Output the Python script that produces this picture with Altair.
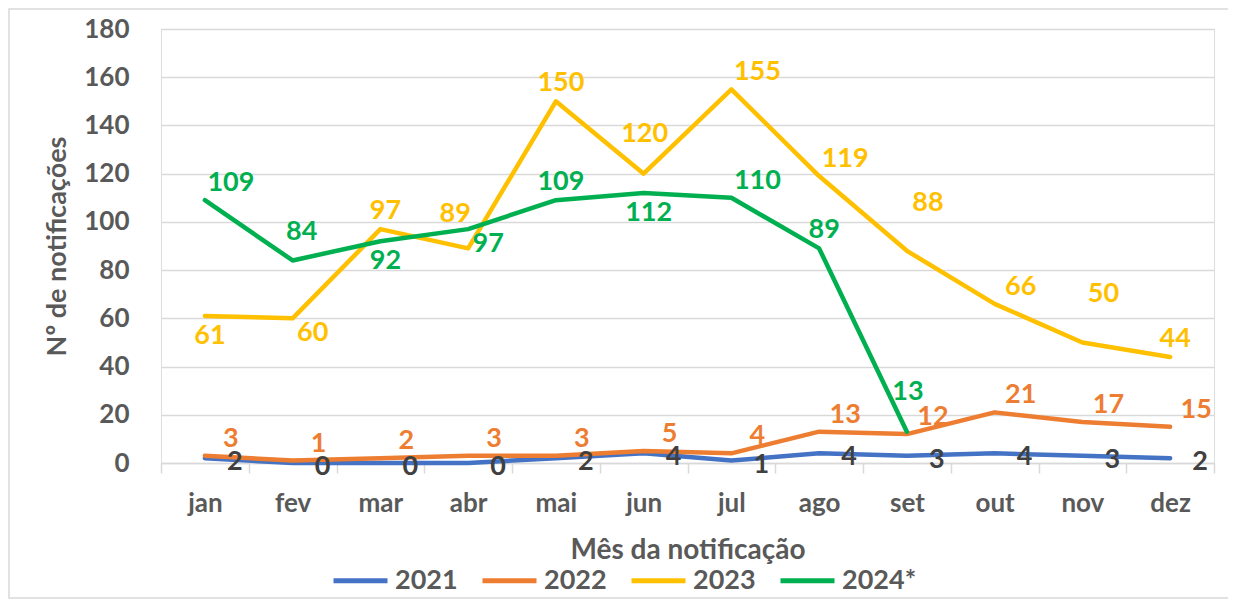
import altair as alt
import pandas as pd

months = ["jan", "fev", "mar", "abr", "mai", "jun", "jul", "ago", "set", "out", "nov", "dez"]
series = ["2021", "2022", "2023", "2024*"]
v2021 = [2, 0, 0, 0, 2, 4, 1, 4, 3, 4, 3, 2]
v2022 = [3, 1, 2, 3, 3, 5, 4, 13, 12, 21, 17, 15]
v2023 = [61, 60, 97, 89, 150, 120, 155, 119, 88, 66, 50, 44]
v2024 = [109, 84, 92, 97, 109, 112, 110, 89, 13]

# label placement codes (style only)
p2021 = ["R", "R", "R", "R", "R", "R", "R", "R", "R", "R", "R", "R"]
p2022 = ["AR", "AR", "AR", "AR", "AR", "AR", "AR", "AR", "AR", "AR", "AR", "AR"]
p2023 = ["B", "BR", "A", "AL", "A", "A2", "AR", "AR", "AR2", "AR", "AR2", "A"]
p2024 = ["AR", "A1", "B", "BR", "A", "B", "AR", "A", "A2"]

line_colors = ["#4472C4", "#ED7D31", "#FFC000", "#00B050"]
label_colors = ["#404040", "#ED7D31", "#FFC000", "#00B050"]
offsets = {"R": (30, 4), "AR": (26, -17), "AR2": (21, -48), "A": (5, -18),
           "A1": (9, -28), "A2": (1, -40), "AL": (-13, -34), "B": (5, 20), "BR": (20, 15)}

rows = []
for s, vals, pl in [("2021", v2021, p2021), ("2022", v2022, p2022),
                    ("2023", v2023, p2023), ("2024*", v2024, p2024)]:
    for m, v, p in zip(months, vals, pl):
        rows.append({"month": m, "series": s, "value": v, "place": p})
df = pd.DataFrame(rows)

FONT = "Lato"
GRAY = "#595959"
GRID = "#D9D9D9"

x_enc = alt.X(
    "month:N", sort=months,
    scale=alt.Scale(type="band", domain=months, paddingInner=0, paddingOuter=0),
    axis=alt.Axis(title="Mês da notificação", labelAngle=0, tickBand="extent",
                  labelFont=FONT, labelFontSize=26, labelFontWeight="bold", labelColor=GRAY,
                  titleFont=FONT, titleFontSize=28, titleFontWeight="bold", titleColor=GRAY,
                  domainColor=GRID, domainWidth=1.5, tickColor=GRID, tickWidth=1.5, tickSize=10,
                  labelPadding=17, titlePadding=20, grid=False),
)
y_enc = alt.Y(
    "value:Q",
    scale=alt.Scale(domain=[0, 180], nice=False),
    axis=alt.Axis(title="Nº de notificações", values=list(range(0, 181, 20)),
                  labelFont=FONT, labelFontSize=26, labelFontWeight="bold", labelColor=GRAY,
                  titleFont=FONT, titleFontSize=27, titleFontWeight="bold", titleColor=GRAY,
                  domain=False, ticks=False, tickSize=0, labelPadding=32, titlePadding=12,
                  grid=True, gridColor=GRID, gridWidth=1.5),
)

base = alt.Chart(df)

frame = alt.Chart(pd.DataFrame({"a": [0]})).mark_rect(
    fill="white", fillOpacity=0, stroke=GRID, strokeWidth=1.5
).encode(x=alt.value(-152), x2=alt.value(1070), y=alt.value(-20), y2=alt.value(569))

lines = base.mark_line(strokeWidth=4.5, strokeJoin="round", strokeCap="round").encode(
    x=x_enc, y=y_enc,
    color=alt.Color("series:N", sort=series,
                    scale=alt.Scale(domain=series, range=line_colors),
                    legend=alt.Legend(title=None, orient="none", legendX=170, legendY=522,
                                      direction="horizontal", symbolType="stroke",
                                      symbolSize=2916, symbolStrokeWidth=5,
                                      labelFont=FONT, labelFontSize=27, labelFontWeight="bold",
                                      labelColor=GRAY, labelOffset=5, columnPadding=14,
                                      padding=0)),
    detail="series:N",
)

texts = []
for code, (dx, dy) in offsets.items():
    t = base.transform_filter(alt.datum.place == code).mark_text(
        dx=dx, dy=dy, font=FONT, fontSize=27, fontWeight="bold",
        align="center", baseline="middle"
    ).encode(
        x=x_enc, y=y_enc, text="value:Q",
        color=alt.Color("series:N", scale=alt.Scale(domain=series, range=label_colors), legend=None),
    )
    texts.append(t)

chart = alt.layer(frame, lines, *texts).resolve_scale(color="independent").properties(
    width=1053, height=434,
    autosize=alt.AutoSizeParams(type="none"),
    padding={"left": 153, "top": 21, "right": 14, "bottom": 136},
).configure_view(stroke=None).configure(font=FONT, background="white")

chart.save("out.html", embed_options={"renderer": "svg", "actions": False})
